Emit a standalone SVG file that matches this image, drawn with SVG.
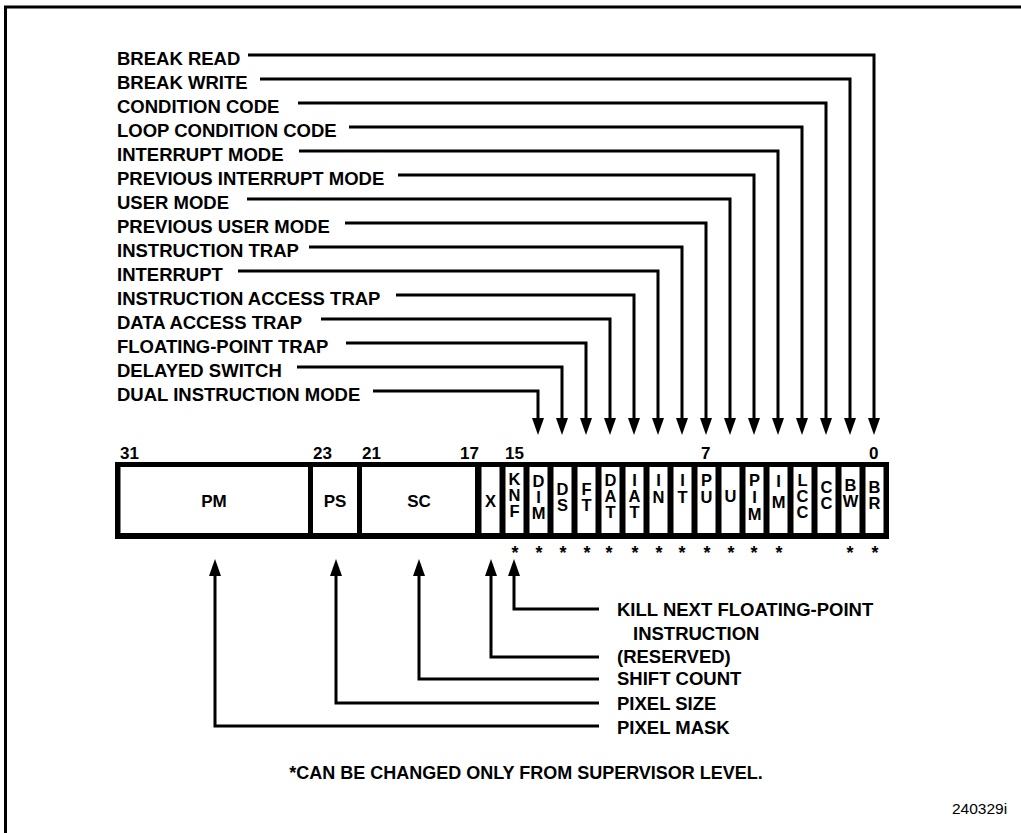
<svg xmlns="http://www.w3.org/2000/svg" width="1021" height="833" viewBox="0 0 1021 833">
<style>
text{font-family:"Liberation Sans",Arial,Helvetica,sans-serif;font-weight:bold;fill:#000}
.lbl{font-size:18.5px}
.num{font-size:17px}
.fld{font-size:17px;text-anchor:middle}
.bit{font-size:16.5px;text-anchor:middle}
.star{font-size:18px;text-anchor:middle}
.ref{font-size:15.5px;font-weight:normal}
.cn{fill:none;stroke:#000;stroke-width:3;stroke-linejoin:miter}
.cell{fill:#fff}
</style>
<defs>
<marker id="ah" viewBox="0 0 17 12" markerWidth="17" markerHeight="12" refX="10" refY="6" markerUnits="userSpaceOnUse" orient="auto">
<path d="M0,0 L17,6 L0,12 z" fill="#000"/>
</marker>
</defs>
<rect width="1021" height="833" fill="#fff"/>
<path d="M5.5,833 V7 H1021" fill="none" stroke="#000" stroke-width="3"/>

<g id="labels-top">
<text class="lbl" x="117" y="65">BREAK READ</text>
<text class="lbl" x="117" y="89">BREAK WRITE</text>
<text class="lbl" x="117" y="113">CONDITION CODE</text>
<text class="lbl" x="117" y="137">LOOP CONDITION CODE</text>
<text class="lbl" x="117" y="161">INTERRUPT MODE</text>
<text class="lbl" x="117" y="185">PREVIOUS INTERRUPT MODE</text>
<text class="lbl" x="117" y="209">USER MODE</text>
<text class="lbl" x="117" y="233">PREVIOUS USER MODE</text>
<text class="lbl" x="117" y="257">INSTRUCTION TRAP</text>
<text class="lbl" x="117" y="281">INTERRUPT</text>
<text class="lbl" x="117" y="305">INSTRUCTION ACCESS TRAP</text>
<text class="lbl" x="117" y="329">DATA ACCESS TRAP</text>
<text class="lbl" x="117" y="353">FLOATING-POINT TRAP</text>
<text class="lbl" x="117" y="377">DELAYED SWITCH</text>
<text class="lbl" x="117" y="401">DUAL INSTRUCTION MODE</text>
</g>

<g id="connectors">
<path class="cn" marker-end="url(#ah)" d="M248,55 H874 V428"/>
<path class="cn" marker-end="url(#ah)" d="M260,79 H850 V428"/>
<path class="cn" marker-end="url(#ah)" d="M298,103 H826 V428"/>
<path class="cn" marker-end="url(#ah)" d="M349,127 H802 V428"/>
<path class="cn" marker-end="url(#ah)" d="M299,151 H778 V428"/>
<path class="cn" marker-end="url(#ah)" d="M398,175 H754 V428"/>
<path class="cn" marker-end="url(#ah)" d="M247,199 H730 V428"/>
<path class="cn" marker-end="url(#ah)" d="M345,223 H706 V428"/>
<path class="cn" marker-end="url(#ah)" d="M309,247 H682 V428"/>
<path class="cn" marker-end="url(#ah)" d="M238,271 H658 V428"/>
<path class="cn" marker-end="url(#ah)" d="M396,295 H634 V428"/>
<path class="cn" marker-end="url(#ah)" d="M321,319 H610 V428"/>
<path class="cn" marker-end="url(#ah)" d="M346,343 H586 V428"/>
<path class="cn" marker-end="url(#ah)" d="M297,367 H562 V428"/>
<path class="cn" marker-end="url(#ah)" d="M373,391 H538 V428"/>
<path class="cn" marker-end="url(#ah)" d="M599,609 H514 V566"/>
<path class="cn" marker-end="url(#ah)" d="M599,657 H491 V566"/>
<path class="cn" marker-end="url(#ah)" d="M599,679 H419 V566"/>
<path class="cn" marker-end="url(#ah)" d="M599,703 H336 V566"/>
<path class="cn" marker-end="url(#ah)" d="M599,726 H215 V566"/>
</g>

<g id="bit-numbers">
<text class="num" x="120" y="459">31</text>
<text class="num" x="313" y="459">23</text>
<text class="num" x="362" y="459">21</text>
<text class="num" x="460" y="459">17</text>
<text class="num" x="505" y="459">15</text>
<text class="num" x="701" y="459">7</text>
<text class="num" x="869" y="459">0</text>
</g>

<g id="register">
<rect x="115" y="462" width="774" height="77" fill="#000"/>
<rect class="cell" x="120.5" y="467" width="187.5" height="66"/>
<rect class="cell" x="313" y="467" width="44" height="66"/>
<rect class="cell" x="362" y="467" width="113" height="66"/>
<rect class="cell" x="481.5" y="467" width="18" height="66"/>
<rect class="cell" x="505.5" y="467" width="18" height="66"/>
<rect class="cell" x="529.5" y="467" width="18" height="66"/>
<rect class="cell" x="553.5" y="467" width="18" height="66"/>
<rect class="cell" x="577.5" y="467" width="18" height="66"/>
<rect class="cell" x="601.5" y="467" width="18" height="66"/>
<rect class="cell" x="625.5" y="467" width="18" height="66"/>
<rect class="cell" x="649.5" y="467" width="18" height="66"/>
<rect class="cell" x="673.5" y="467" width="18" height="66"/>
<rect class="cell" x="697.5" y="467" width="18" height="66"/>
<rect class="cell" x="721.5" y="467" width="18" height="66"/>
<rect class="cell" x="745.5" y="467" width="18" height="66"/>
<rect class="cell" x="769.5" y="467" width="18" height="66"/>
<rect class="cell" x="793.5" y="467" width="18" height="66"/>
<rect class="cell" x="817.5" y="467" width="18" height="66"/>
<rect class="cell" x="841.5" y="467" width="18" height="66"/>
<rect class="cell" x="865.5" y="467" width="18" height="66"/>
</g>

<g id="field-PM"><text class="fld" x="214" y="507">PM</text></g>
<g id="field-PS"><text class="fld" x="335" y="507">PS</text></g>
<g id="field-SC"><text class="fld" x="419" y="507">SC</text></g>
<g id="bit-X"><text class="bit" x="490.5" y="507">X</text></g>
<g id="bit-KNF"><text class="bit" x="514.5" y="485">K<tspan x="514.5" dy="16">N</tspan><tspan x="514.5" dy="16">F</tspan></text></g>
<g id="bit-DIM"><text class="bit" x="538.5" y="487">D<tspan x="538.5" dy="16">I</tspan><tspan x="538.5" dy="16">M</tspan></text></g>
<g id="bit-DS"><text class="bit" x="562.5" y="495">D<tspan x="562.5" dy="16">S</tspan></text></g>
<g id="bit-FT"><text class="bit" x="586.5" y="495">F<tspan x="586.5" dy="16">T</tspan></text></g>
<g id="bit-DAT"><text class="bit" x="610.5" y="486">D<tspan x="610.5" dy="16">A</tspan><tspan x="610.5" dy="16">T</tspan></text></g>
<g id="bit-IAT"><text class="bit" x="634.5" y="486">I<tspan x="634.5" dy="16">A</tspan><tspan x="634.5" dy="16">T</tspan></text></g>
<g id="bit-IN"><text class="bit" x="658.5" y="486">I<tspan x="658.5" dy="17">N</tspan></text></g>
<g id="bit-IT"><text class="bit" x="682.5" y="486">I<tspan x="682.5" dy="17">T</tspan></text></g>
<g id="bit-PU"><text class="bit" x="706.5" y="486">P<tspan x="706.5" dy="17">U</tspan></text></g>
<g id="bit-U"><text class="bit" x="730.5" y="502">U</text></g>
<g id="bit-PIM"><text class="bit" x="754.5" y="486">P<tspan x="754.5" dy="17">I</tspan><tspan x="754.5" dy="17">M</tspan></text></g>
<g id="bit-IM"><text class="bit" x="778.5" y="487">I<tspan x="778.5" dy="21">M</tspan></text></g>
<g id="bit-LCC"><text class="bit" x="802.5" y="486">L<tspan x="802.5" dy="16">C</tspan><tspan x="802.5" dy="16">C</tspan></text></g>
<g id="bit-CC"><text class="bit" x="826.5" y="493">C<tspan x="826.5" dy="16">C</tspan></text></g>
<g id="bit-BW"><text class="bit" x="850.5" y="491">B<tspan x="850.5" dy="16">W</tspan></text></g>
<g id="bit-BR"><text class="bit" x="874.5" y="493">B<tspan x="874.5" dy="16">R</tspan></text></g>

<g id="supervisor-marks">
<text class="star" x="515" y="559">*</text>
<text class="star" x="539" y="559">*</text>
<text class="star" x="563" y="559">*</text>
<text class="star" x="587" y="559">*</text>
<text class="star" x="609" y="559">*</text>
<text class="star" x="635" y="559">*</text>
<text class="star" x="659" y="559">*</text>
<text class="star" x="682" y="559">*</text>
<text class="star" x="707" y="559">*</text>
<text class="star" x="731" y="559">*</text>
<text class="star" x="754" y="559">*</text>
<text class="star" x="779" y="559">*</text>
<text class="star" x="850" y="559">*</text>
<text class="star" x="875" y="559">*</text>
</g>

<g id="labels-bottom">
<text class="lbl" x="617" y="616">KILL NEXT FLOATING-POINT</text>
<text class="lbl" x="633" y="640">INSTRUCTION</text>
<text class="lbl" x="617" y="663">(RESERVED)</text>
<text class="lbl" x="617" y="685">SHIFT COUNT</text>
<text class="lbl" x="617" y="710">PIXEL SIZE</text>
<text class="lbl" x="617" y="734">PIXEL MASK</text>
</g>

<g id="footnote">
<text class="lbl" x="526" y="779" text-anchor="middle" style="font-size:18px">*CAN BE CHANGED ONLY FROM SUPERVISOR LEVEL.</text>
</g>
<g id="figure-ref">
<text class="ref" x="952" y="814">240329i</text>
</g>
</svg>
